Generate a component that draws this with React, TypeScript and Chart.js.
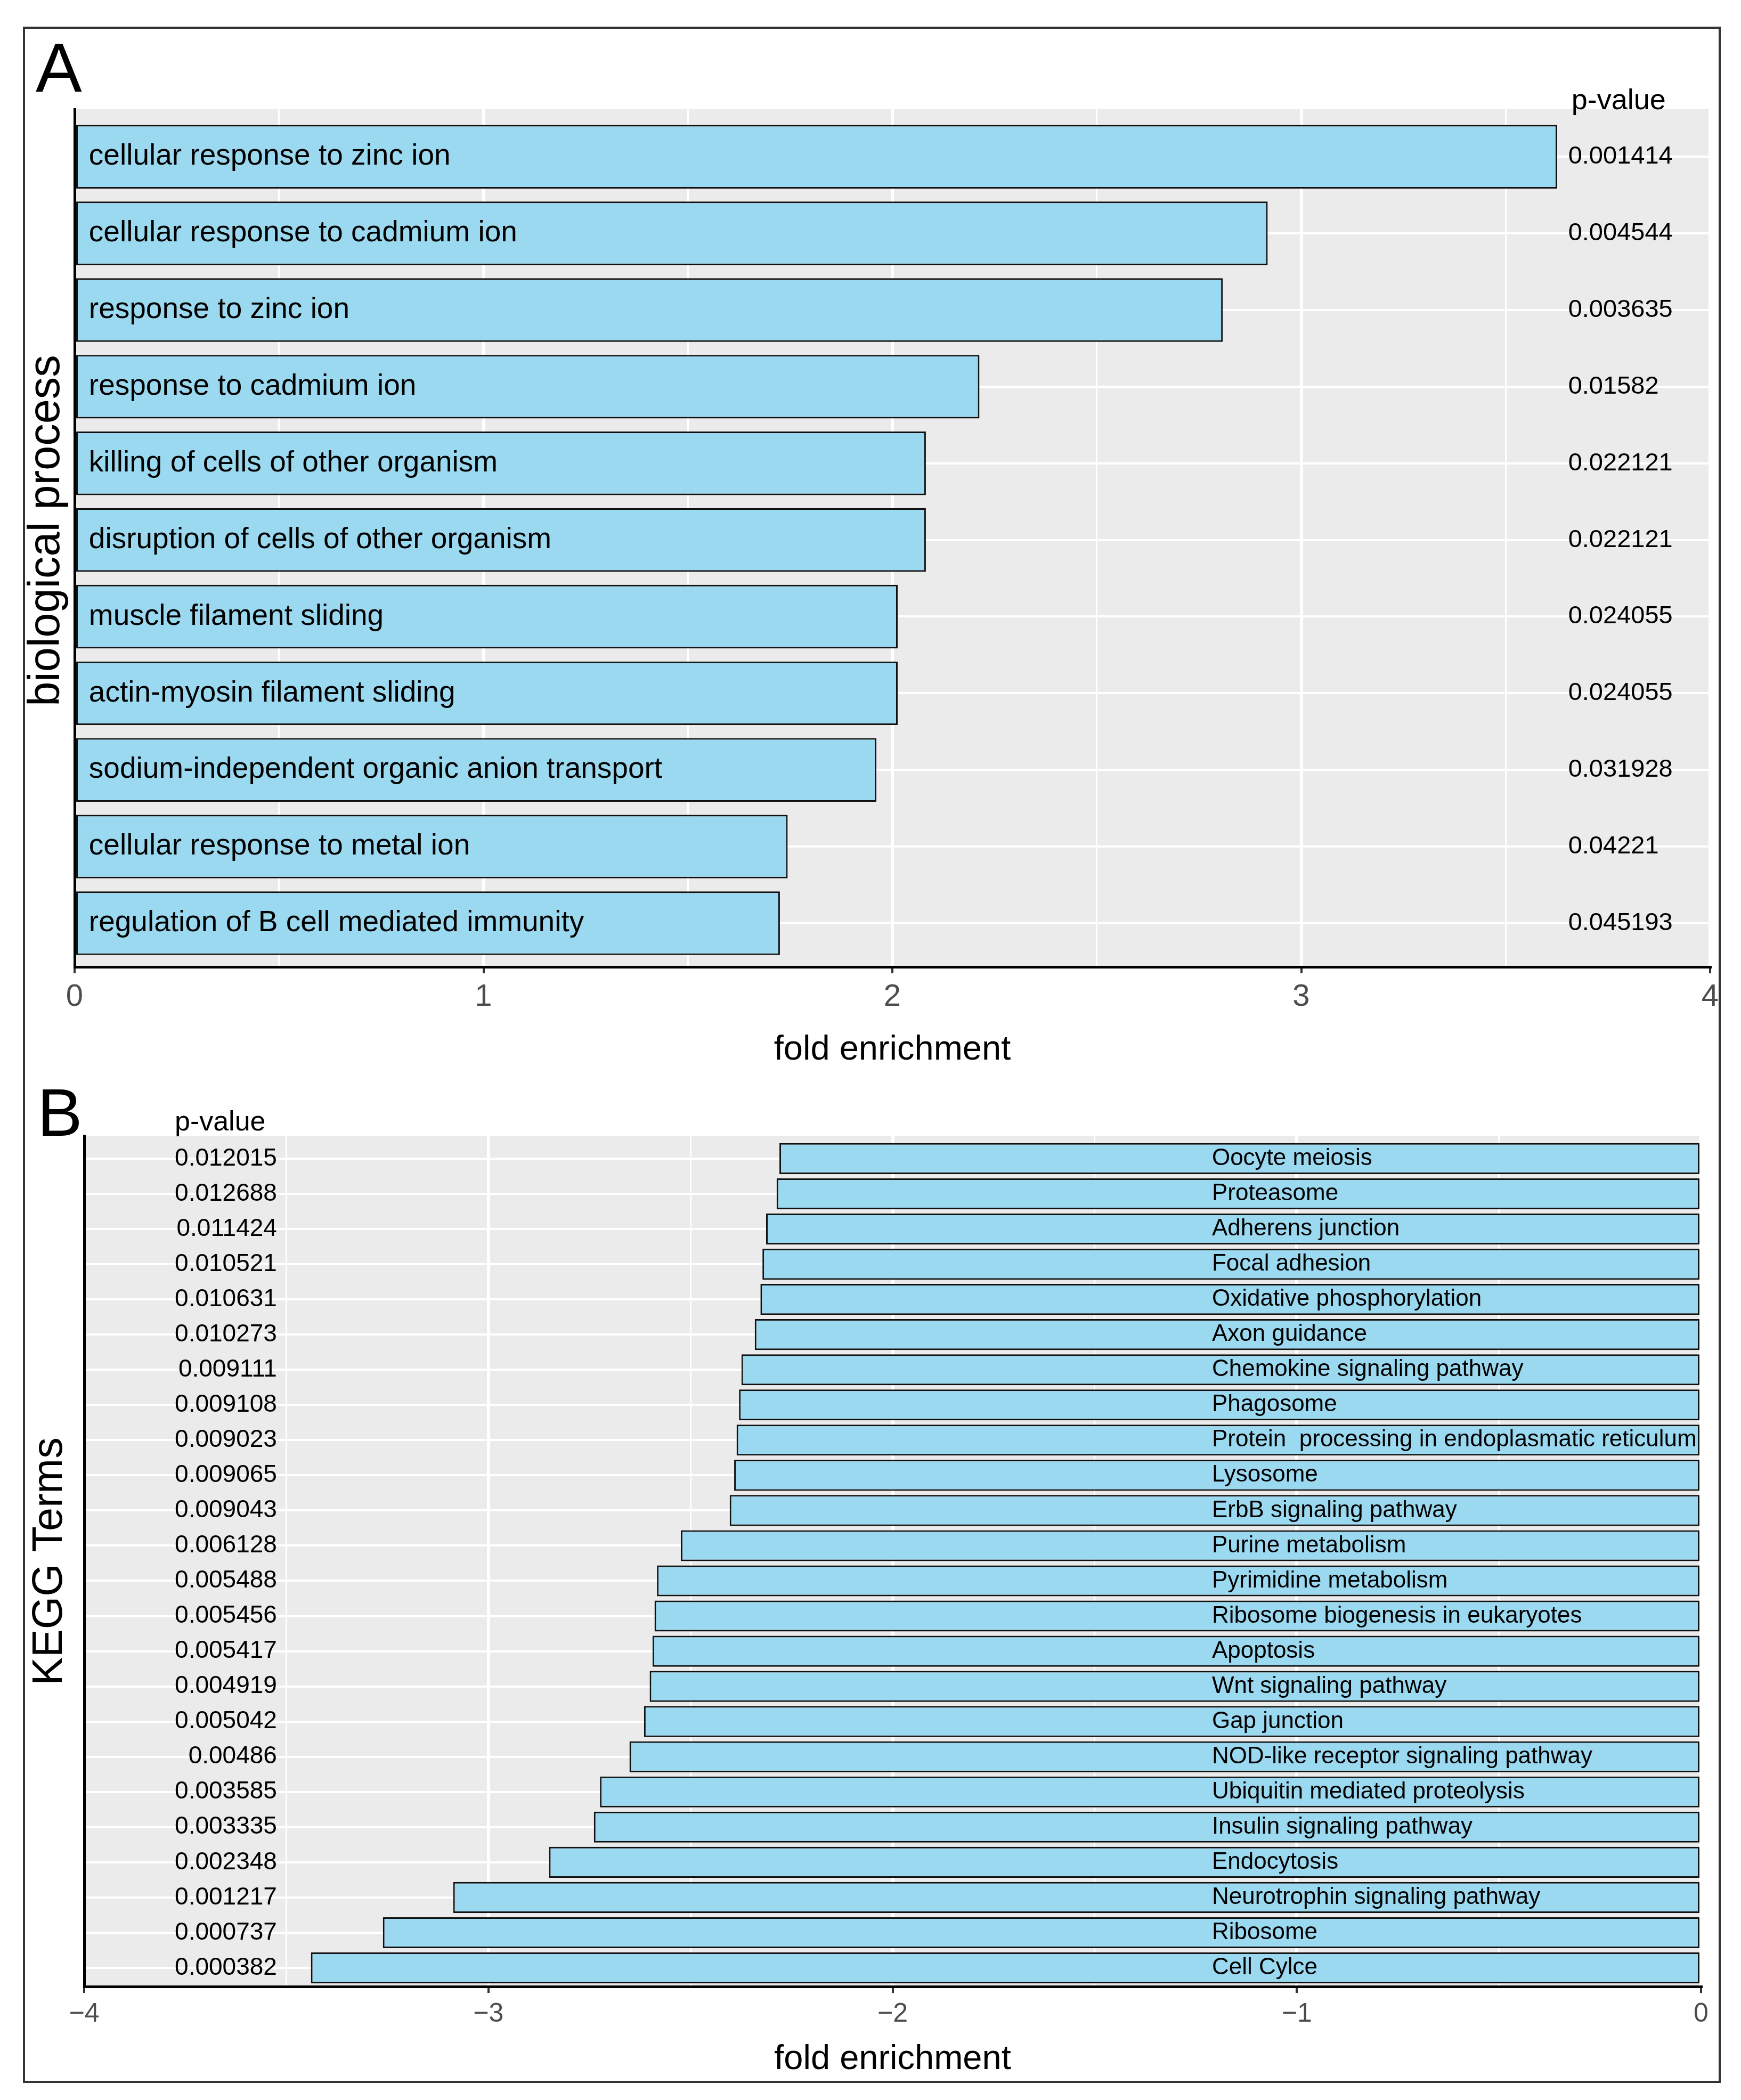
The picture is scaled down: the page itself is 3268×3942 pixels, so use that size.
import React, { useEffect, useRef } from 'react';
import { Chart, registerables } from 'chart.js';

Chart.register(...registerables);

const FONT = "'Liberation Sans', Arial, Helvetica, sans-serif";
Chart.defaults.font.family = FONT;

// ---------- Panel A data ----------
const bpTerms = [
  'cellular response to zinc ion',
  'cellular response to cadmium ion',
  'response to zinc ion',
  'response to cadmium ion',
  'killing of cells of other organism',
  'disruption of cells of other organism',
  'muscle filament sliding',
  'actin-myosin filament sliding',
  'sodium-independent organic anion transport',
  'cellular response to metal ion',
  'regulation of B cell mediated immunity',
];
const bpFold = [3.626, 2.918, 2.808, 2.213, 2.082, 2.082, 2.013, 2.013, 1.961, 1.744, 1.725];
const bpPValues = [
  '0.001414', '0.004544', '0.003635', '0.01582', '0.022121', '0.022121',
  '0.024055', '0.024055', '0.031928', '0.04221', '0.045193',
];
const bpXTicks = [0, 1, 2, 3, 4];
const bpXTickLabels = ['0', '1', '2', '3', '4'];
const bpXMinor = [0.5, 1.5, 2.5, 3.5];
const bpLabelX = 0.035;
const bpPValueX = 3.653;

// ---------- Panel B data ----------
const keggTerms = [
  'Oocyte meiosis',
  'Proteasome',
  'Adherens junction',
  'Focal adhesion',
  'Oxidative phosphorylation',
  'Axon guidance',
  'Chemokine signaling pathway',
  'Phagosome',
  'Protein  processing in endoplasmatic reticulum',
  'Lysosome',
  'ErbB signaling pathway',
  'Purine metabolism',
  'Pyrimidine metabolism',
  'Ribosome biogenesis in eukaryotes',
  'Apoptosis',
  'Wnt signaling pathway',
  'Gap junction',
  'NOD-like receptor signaling pathway',
  'Ubiquitin mediated proteolysis',
  'Insulin signaling pathway',
  'Endocytosis',
  'Neurotrophin signaling pathway',
  'Ribosome',
  'Cell Cylce',
];
const keggFold = [
  -2.28, -2.287, -2.313, -2.322, -2.327, -2.341, -2.374, -2.38, -2.386, -2.392, -2.403, -2.524,
  -2.583, -2.589, -2.594, -2.601, -2.615, -2.651, -2.724, -2.739, -2.85, -3.087, -3.261, -3.439,
];
const keggPValues = [
  '0.012015', '0.012688', '0.011424', '0.010521', '0.010631', '0.010273', '0.009111', '0.009108',
  '0.009023', '0.009065', '0.009043', '0.006128', '0.005488', '0.005456', '0.005417', '0.004919',
  '0.005042', '0.00486', '0.003585', '0.003335', '0.002348', '0.001217', '0.000737', '0.000382',
];
const keggXTicks = [-4, -3, -2, -1, 0];
const keggXTickLabels = ['\u22124', '\u22123', '\u22122', '\u22121', '0'];
const keggXMinor = [-3.5, -2.5, -1.5, -0.5];
const keggLabelX = -1.21;
const keggPValueX = -3.523;
const keggPHeaderX = -3.776;

const BAR_FILL = '#9bd9f1';
const PANEL_BG = '#ebebeb';

const bgPlugin = {
  id: 'panelBg',
  beforeDraw(chart: any) {
    const { ctx, chartArea } = chart;
    ctx.save();
    ctx.fillStyle = PANEL_BG;
    ctx.fillRect(chartArea.left, chartArea.top, chartArea.right - chartArea.left, chartArea.bottom - chartArea.top);
    ctx.restore();
  },
};

function xScaleOptions(major: number[], minor: number[], labels: string[], min: number, max: number, tickFont: number, height: number) {
  return {
    type: 'linear',
    min,
    max,
    offset: false,
    afterBuildTicks: (s: any) => {
      s.ticks = [...major, ...minor].sort((a, b) => a - b).map((v) => ({ value: v }));
    },
    afterFit: (s: any) => {
      s.height = height;
    },
    ticks: {
      autoSkip: false,
      maxRotation: 0,
      color: '#4d4d4d',
      font: { size: tickFont },
      padding: 10,
      callback: (v: number) => {
        const k = major.indexOf(v);
        return k >= 0 ? labels[k] : '';
      },
    },
    grid: {
      color: '#ffffff',
      lineWidth: (c: any) => (major.includes(c.tick?.value) ? 6 : 3),
      tickLength: 12,
      tickWidth: 4,
      tickColor: (c: any) => (major.includes(c.tick?.value) ? '#333333' : 'rgba(0,0,0,0)'),
    },
    border: { display: true, color: '#000000', width: 5, z: 1 },
    title: { display: true, text: 'fold enrichment', color: '#000000', font: { size: 65 }, padding: 0 },
  };
}

function yScaleOptions(n: number, lo: number, hi: number) {
  return {
    type: 'linear',
    min: 1 - lo,
    max: n + hi,
    reverse: true,
    offset: false,
    afterBuildTicks: (s: any) => {
      const t = [];
      for (let i = 1; i <= n; i++) t.push({ value: i });
      s.ticks = t;
    },
    afterFit: (s: any) => {
      s.width = 0;
    },
    ticks: { display: false },
    grid: { color: '#ffffff', lineWidth: 4, drawTicks: false, offset: false },
    border: { display: true, color: '#000000', width: 5, z: 1 },
  };
}

export default function App() {
  const refA = useRef<HTMLCanvasElement | null>(null);
  const refB = useRef<HTMLCanvasElement | null>(null);

  useEffect(() => {
    const textA = {
      id: 'textA',
      afterDraw(chart: any) {
        const { ctx } = chart;
        const xs = chart.scales.x;
        const meta = chart.getDatasetMeta(0);
        ctx.save();
        ctx.fillStyle = '#000000';
        ctx.textBaseline = 'middle';
        ctx.textAlign = 'left';
        ctx.font = `55px ${FONT}`;
        meta.data.forEach((el: any, i: number) => ctx.fillText(bpTerms[i], xs.getPixelForValue(bpLabelX), el.y));
        ctx.font = `47px ${FONT}`;
        meta.data.forEach((el: any, i: number) => ctx.fillText(bpPValues[i], xs.getPixelForValue(bpPValueX), el.y));
        ctx.textBaseline = 'alphabetic';
        ctx.font = `54px ${FONT}`;
        ctx.fillText('p-value', xs.getPixelForValue(bpPValueX) + 6, 205);
        ctx.font = `130px ${FONT}`;
        ctx.fillText('A', 67, 172);
        ctx.translate(88, 996);
        ctx.rotate(-Math.PI / 2);
        ctx.textAlign = 'center';
        ctx.textBaseline = 'middle';
        ctx.font = `83px ${FONT}`;
        ctx.fillText('biological process', 0, 0);
        ctx.restore();
      },
    };

    const textB = {
      id: 'textB',
      afterDraw(chart: any) {
        const { ctx } = chart;
        const xs = chart.scales.x;
        const meta = chart.getDatasetMeta(0);
        ctx.save();
        ctx.fillStyle = '#000000';
        ctx.textBaseline = 'middle';
        ctx.textAlign = 'left';
        ctx.font = `44px ${FONT}`;
        meta.data.forEach((el: any, i: number) => ctx.fillText(keggTerms[i], xs.getPixelForValue(keggLabelX), el.y));
        ctx.textAlign = 'right';
        ctx.font = `46px ${FONT}`;
        meta.data.forEach((el: any, i: number) => ctx.fillText(keggPValues[i], xs.getPixelForValue(keggPValueX), el.y));
        ctx.textAlign = 'left';
        ctx.textBaseline = 'alphabetic';
        ctx.font = `52px ${FONT}`;
        ctx.fillText('p-value', xs.getPixelForValue(keggPHeaderX), 122);
        ctx.font = `127px ${FONT}`;
        ctx.fillText('B', 70, 132);
        ctx.translate(94, 931);
        ctx.rotate(-Math.PI / 2);
        ctx.textAlign = 'center';
        ctx.textBaseline = 'middle';
        ctx.font = `79px ${FONT}`;
        ctx.fillText('KEGG Terms', 0, 0);
        ctx.restore();
      },
    };

    const chartA = new Chart(refA.current as HTMLCanvasElement, {
      type: 'bar',
      data: {
        datasets: [
          {
            data: bpFold.map((v, i) => ({ x: v, y: i + 1 })),
            backgroundColor: BAR_FILL,
            borderColor: '#111111',
            borderWidth: 3,
            borderSkipped: false,
            barPercentage: 0.83,
            categoryPercentage: 1,
          },
        ],
      },
      options: {
        indexAxis: 'y',
        responsive: false,
        animation: false,
        devicePixelRatio: 1,
        layout: { padding: { left: 140, top: 205, right: 58, bottom: 40 } },
        plugins: { legend: { display: false }, tooltip: { enabled: false } },
        scales: {
          x: xScaleOptions(bpXTicks, bpXMinor, bpXTickLabels, 0, 4, 58, 195) as any,
          y: yScaleOptions(bpTerms.length, 0.62, 0.57) as any,
        },
      },
      plugins: [bgPlugin, textA],
    } as any);

    const chartB = new Chart(refB.current as HTMLCanvasElement, {
      type: 'bar',
      data: {
        datasets: [
          {
            data: keggFold.map((v, i) => ({ x: v, y: i + 1 })),
            backgroundColor: BAR_FILL,
            borderColor: '#111111',
            borderWidth: 3,
            borderSkipped: false,
            barPercentage: 0.88,
            categoryPercentage: 1,
          },
        ],
      },
      options: {
        indexAxis: 'y',
        responsive: false,
        animation: false,
        devicePixelRatio: 1,
        layout: { padding: { left: 158, top: 132, right: 75, bottom: 37 } },
        plugins: { legend: { display: false }, tooltip: { enabled: false } },
        scales: {
          x: xScaleOptions(keggXTicks, keggXMinor, keggXTickLabels, -4, 0, 50, 176) as any,
          y: yScaleOptions(keggTerms.length, 0.65, 0.53) as any,
        },
      },
      plugins: [bgPlugin, textB],
    } as any);

    return () => {
      chartA.destroy();
      chartB.destroy();
    };
  }, []);

  return (
    <div style={{ position: 'absolute', left: 0, top: 0, width: 3268, height: 3942, background: '#ffffff', overflow: 'hidden' }}>
      <div
        style={{
          position: 'absolute',
          left: 43,
          top: 50,
          width: 3187,
          height: 3860,
          border: '4px solid #333333',
          boxSizing: 'border-box',
        }}
      />
      <canvas ref={refA} width={3268} height={2050} style={{ position: 'absolute', left: 0, top: 0 }} />
      <canvas ref={refB} width={3268} height={1942} style={{ position: 'absolute', left: 0, top: 2000 }} />
    </div>
  );
}
